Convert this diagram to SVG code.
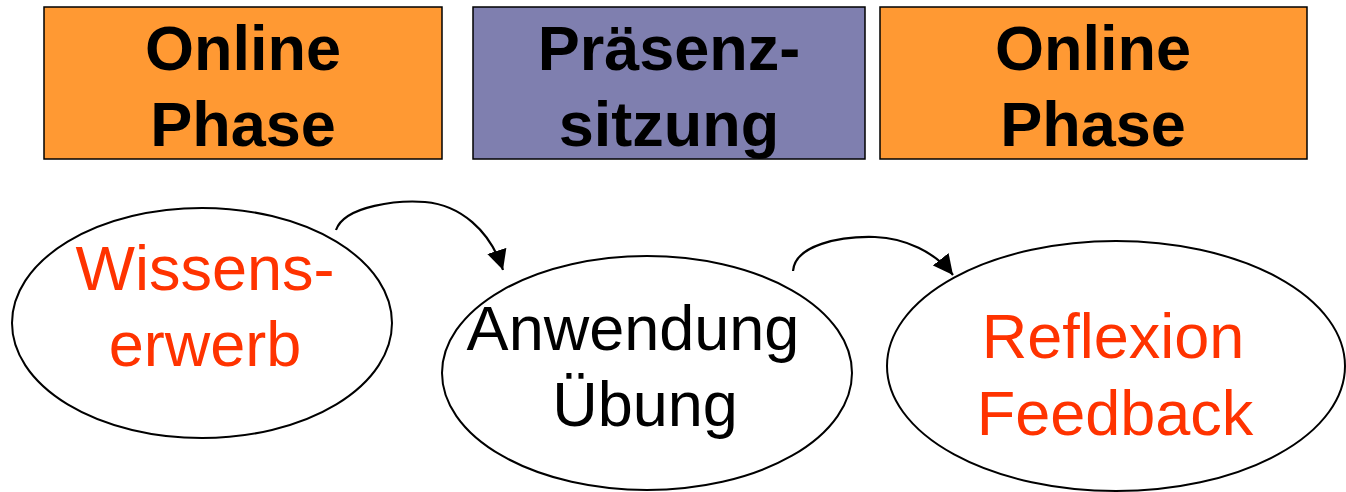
<svg xmlns="http://www.w3.org/2000/svg" width="1346" height="492" viewBox="0 0 1346 492">
<defs>
<style>
.box{stroke:#000;stroke-width:1.5}
.hdr{font-family:"Liberation Sans",Arial,sans-serif;font-weight:bold;font-size:63px;fill:#000;text-anchor:middle}
.ell{fill:#fff;stroke:#000;stroke-width:2}
.lbl{font-family:"Liberation Sans",Arial,sans-serif;font-size:63px;text-anchor:middle}
.red{fill:#FF3300}
.blk{fill:#000}
.con{fill:none;stroke:#000;stroke-width:2.2}
</style>
<marker id="arrow" viewBox="0 0 20 20" refX="20" refY="10" markerWidth="20" markerHeight="20" markerUnits="userSpaceOnUse" orient="auto">
<path d="M0,0 L20,10 L0,20 z" fill="#000"/>
</marker>
</defs>
<rect width="1346" height="492" fill="#fff"/>
<g id="phase1">
<rect class="box" x="44" y="7" width="398" height="152" fill="#FF9933"/>
<text class="hdr" x="243" y="70">Online</text>
<text class="hdr" x="243" y="146">Phase</text>
</g>
<g id="praesenz">
<rect class="box" x="473" y="7" width="392" height="152" fill="#7F7FAF"/>
<text class="hdr" x="669" y="70">Präsenz-</text>
<text class="hdr" x="669" y="146">sitzung</text>
</g>
<g id="phase2">
<rect class="box" x="880" y="7" width="427" height="152" fill="#FF9933"/>
<text class="hdr" x="1093" y="70">Online</text>
<text class="hdr" x="1093" y="146">Phase</text>
</g>
<g id="wissen">
<ellipse class="ell" cx="202" cy="323" rx="190" ry="115"/>
<text class="lbl red" x="205" y="290">Wissens-</text>
<text class="lbl red" x="205" y="366">erwerb</text>
</g>
<g id="anwendung">
<ellipse class="ell" cx="647" cy="373" rx="205" ry="117"/>
<text class="lbl blk" x="633" y="350">Anwendung</text>
<text class="lbl blk" x="645" y="426">Übung</text>
</g>
<g id="reflexion">
<ellipse class="ell" cx="1116" cy="366" rx="229" ry="125"/>
<text class="lbl red" x="1113" y="358">Reflexion</text>
<text class="lbl red" x="1115" y="435">Feedback</text>
</g>
<g id="connectors">
<path class="con" d="M336,230 C345,205 400,200 425,202 C460,205 490,230 503,270" marker-end="url(#arrow)"/>
<path class="con" d="M793,271 C795,245 840,236 875,237 C905,238 935,252 953,275" marker-end="url(#arrow)"/>
</g>
</svg>
